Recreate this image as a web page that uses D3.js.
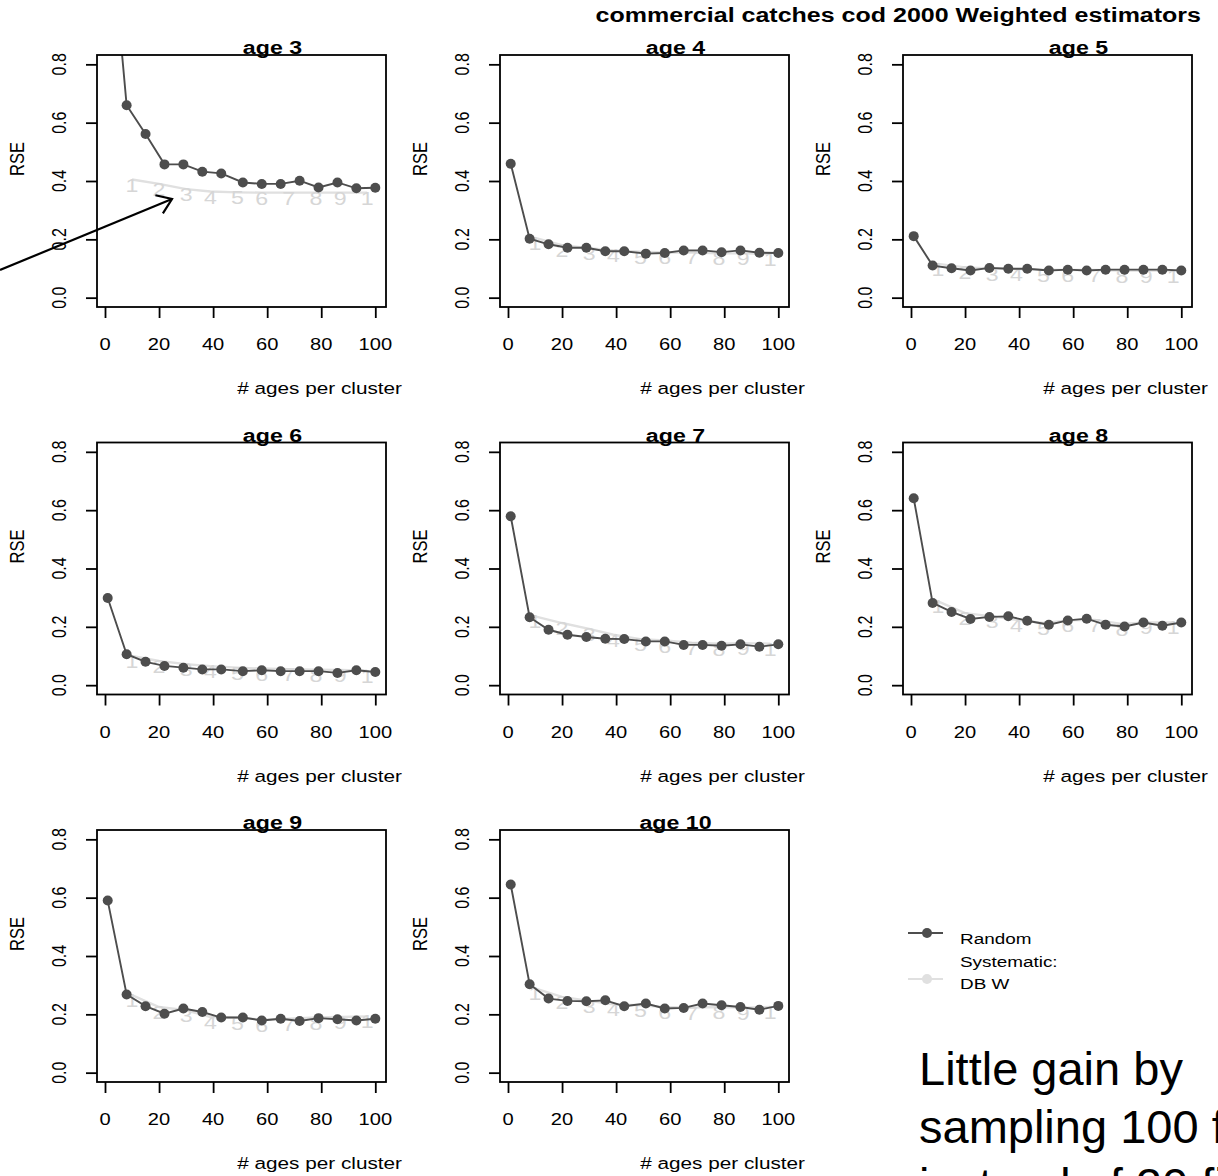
<!DOCTYPE html>
<html>
<head>
<meta charset="utf-8">
<script src="https://cdn.jsdelivr.net/npm/d3@7"></script>
<style>
  body { margin: 0; background: #fff; }
  text { font-family: "Liberation Sans", Arial, sans-serif; }
</style>
</head>
<body>
  <script>
    // x positions (# ages per cluster)
    const xRandom = [1, 8, 15, 22, 29, 36, 43, 51, 58, 65, 72, 79, 86, 93, 100];
    const xSystematic = [10, 20, 30, 39, 49, 58, 68, 78, 87, 97];
    const sysLabels = ["1", "2", "3", "4", "5", "6", "7", "8", "9", "1"];

    // RSE, random sampling
    const rand3 = [1.38, 0.66, 0.561, 0.457, 0.457, 0.432, 0.426, 0.395, 0.39, 0.39, 0.401, 0.378, 0.395, 0.375, 0.377];
    const rand4 = [0.459, 0.202, 0.183, 0.171, 0.171, 0.159, 0.159, 0.151, 0.153, 0.162, 0.162, 0.156, 0.162, 0.154, 0.153];
    const rand5 = [0.211, 0.110, 0.101, 0.093, 0.102, 0.099, 0.099, 0.093, 0.096, 0.093, 0.096, 0.096, 0.096, 0.096, 0.093];
    const rand6 = [0.299, 0.106, 0.080, 0.066, 0.060, 0.054, 0.054, 0.048, 0.051, 0.048, 0.048, 0.048, 0.042, 0.051, 0.045];
    const rand7 = [0.579, 0.233, 0.190, 0.173, 0.165, 0.159, 0.158, 0.150, 0.150, 0.138, 0.138, 0.135, 0.140, 0.132, 0.140];
    const rand8 = [0.641, 0.282, 0.251, 0.227, 0.234, 0.236, 0.221, 0.207, 0.222, 0.228, 0.207, 0.201, 0.215, 0.204, 0.215];
    const rand9 = [0.590, 0.268, 0.228, 0.202, 0.220, 0.208, 0.189, 0.189, 0.179, 0.185, 0.177, 0.187, 0.183, 0.179, 0.185];
    const rand10 = [0.645, 0.303, 0.254, 0.246, 0.245, 0.248, 0.228, 0.237, 0.220, 0.222, 0.237, 0.231, 0.225, 0.216, 0.229];

    // RSE, systematic DB W
    const sys3 = [0.405, 0.390, 0.372, 0.364, 0.361, 0.360, 0.360, 0.360, 0.360, 0.360];
    const sys4 = [0.205, 0.180, 0.170, 0.162, 0.158, 0.155, 0.155, 0.152, 0.152, 0.150];
    const sys5 = [0.116, 0.104, 0.100, 0.098, 0.096, 0.095, 0.095, 0.093, 0.093, 0.093];
    const sys6 = [0.100, 0.083, 0.072, 0.065, 0.060, 0.057, 0.055, 0.053, 0.052, 0.050];
    const sys7 = [0.236, 0.213, 0.193, 0.173, 0.158, 0.153, 0.146, 0.142, 0.144, 0.142];
    const sys8 = [0.287, 0.247, 0.236, 0.224, 0.213, 0.222, 0.224, 0.210, 0.215, 0.215];
    const sys9 = [0.266, 0.225, 0.214, 0.191, 0.189, 0.182, 0.185, 0.189, 0.191, 0.193];
    const sys10 = [0.289, 0.260, 0.246, 0.234, 0.231, 0.225, 0.223, 0.225, 0.223, 0.225];

    const ages = ["age 3", "age 4", "age 5", "age 6", "age 7", "age 8", "age 9", "age 10"];
    const randSeries = [rand3, rand4, rand5, rand6, rand7, rand8, rand9, rand10];
    const sysSeries = [sys3, sys4, sys5, sys6, sys7, sys8, sys9, sys10];
    const xTicks = [0, 20, 40, 60, 80, 100];
    const yTicks = [0, 0.2, 0.4, 0.6, 0.8];

    const W = 1218, H = 1176;
    const pw = 289, ph = 252;
    const colX = [97, 500, 903];
    const rowY = [55, 442.5, 830];
    const sx = 1.22;          // chart picture is stretched sideways
    const dark = "#4d4d4d", light = "#e0e0e0";

    const svg = d3.select("body").append("svg")
        .attr("width", W).attr("height", H);

    // text helper, stretched horizontally like the original
    function label(g, x, y, txt, size, opts = {}) {
      return g.append("text")
        .attr("transform", `translate(${x},${y}) scale(${opts.sx || sx},1)` + (opts.rot ? " rotate(-90)" : ""))
        .attr("text-anchor", opts.anchor || "middle")
        .attr("font-size", size)
        .attr("font-weight", opts.bold ? "bold" : null)
        .attr("fill", opts.fill || "#000")
        .text(txt);
    }

    ages.forEach((age, i) => {
      const left = colX[i % 3], top = rowY[Math.floor(i / 3)];
      const g = svg.append("g").attr("transform", `translate(${left},${top})`);

      const x = d3.scaleLinear().domain([-2.96, 103.96]).range([0, pw]);
      const y = d3.scaleLinear().domain([-0.032, 0.832]).range([ph, 0]);

      g.append("clipPath").attr("id", "clip" + i)
        .append("rect").attr("width", pw).attr("height", ph);
      const plot = g.append("g").attr("clip-path", `url(#clip${i})`);

      // systematic: grey line with number symbols
      const sys = sysSeries[i];
      plot.append("path")
        .datum(xSystematic.map((d, k) => [d, sys[k]]))
        .attr("fill", "none").attr("stroke", light).attr("stroke-width", 2.4)
        .attr("d", d3.line().x(d => x(d[0])).y(d => y(d[1])));
      xSystematic.forEach((d, k) => {
        label(plot, x(d), y(sys[k]) + 12, sysLabels[k], 19, { fill: "#d6d6d6" });
      });

      // random: dark line with filled dots
      const rnd = randSeries[i];
      plot.append("path")
        .datum(xRandom.map((d, k) => [d, rnd[k]]))
        .attr("fill", "none").attr("stroke", dark).attr("stroke-width", 1.9)
        .attr("d", d3.line().x(d => x(d[0])).y(d => y(d[1])));
      plot.selectAll("circle")
        .data(xRandom.map((d, k) => [d, rnd[k]]))
        .enter().append("circle")
        .attr("cx", d => x(d[0])).attr("cy", d => y(d[1]))
        .attr("r", 5).attr("fill", dark);

      // box
      g.append("rect").attr("width", pw).attr("height", ph)
        .attr("fill", "none").attr("stroke", "#000").attr("stroke-width", 1.8);

      // axes
      const xa = g.append("g").attr("transform", `translate(0,${ph})`)
        .call(d3.axisBottom(x).tickValues(xTicks).tickSize(11).tickFormat(""));
      xa.select(".domain").remove();
      xa.selectAll("line").attr("stroke-width", 1.8);
      xTicks.forEach(t => label(g, x(t), ph + 43, String(t), 16.5));

      const ya = g.append("g")
        .call(d3.axisLeft(y).tickValues(yTicks).tickSize(11).tickFormat(""));
      ya.select(".domain").remove();
      ya.selectAll("line").attr("stroke-width", 1.8);
      yTicks.forEach(t => label(g, -31, y(t), d3.format(".1f")(t), 16, { rot: true }));

      label(g, -73, ph / 2 - 22, "RSE", 16.5, { rot: true });
      label(g, pw + 16, ph + 87, "# ages per cluster", 17, { anchor: "end" });
      label(g, pw / 2 + 31, -1, age, 19, { bold: true });
    });

    label(svg, 1201, 22, "commercial catches cod 2000 Weighted estimators", 20.5, { bold: true, anchor: "end" });

    // legend
    const leg = svg.append("g");
    leg.append("line").attr("x1", 908).attr("x2", 943).attr("y1", 933).attr("y2", 933)
      .attr("stroke", dark).attr("stroke-width", 1.9);
    leg.append("circle").attr("cx", 927).attr("cy", 933).attr("r", 5).attr("fill", dark);
    leg.append("line").attr("x1", 908).attr("x2", 943).attr("y1", 979).attr("y2", 979)
      .attr("stroke", light).attr("stroke-width", 1.9);
    leg.append("circle").attr("cx", 927).attr("cy", 979).attr("r", 5).attr("fill", light);
    label(leg, 960, 944, "Random", 15.5, { anchor: "start" });
    label(leg, 960, 967, "Systematic:", 15.5, { anchor: "start" });
    label(leg, 960, 989, "DB W", 15.5, { anchor: "start" });

    // arrow annotation pointing at the systematic curve of age 3
    const arrow = svg.append("g").attr("stroke", "#000").attr("stroke-width", 2.2).attr("fill", "none");
    arrow.append("line").attr("x1", 0).attr("y1", 270).attr("x2", 172).attr("y2", 199);
    arrow.append("polyline").attr("points", "155.4,195.3 172,199 162.9,213.3");

    // slide text (runs off the slide edge, as in the original)
    const note = ["Little gain by", "sampling 100 fish", "instead of 20 fish"];
    note.forEach((t, k) => label(svg, 919, 1085 + k * 58, t, 47, { anchor: "start", sx: 1 }));
  </script>
</body>
</html>
